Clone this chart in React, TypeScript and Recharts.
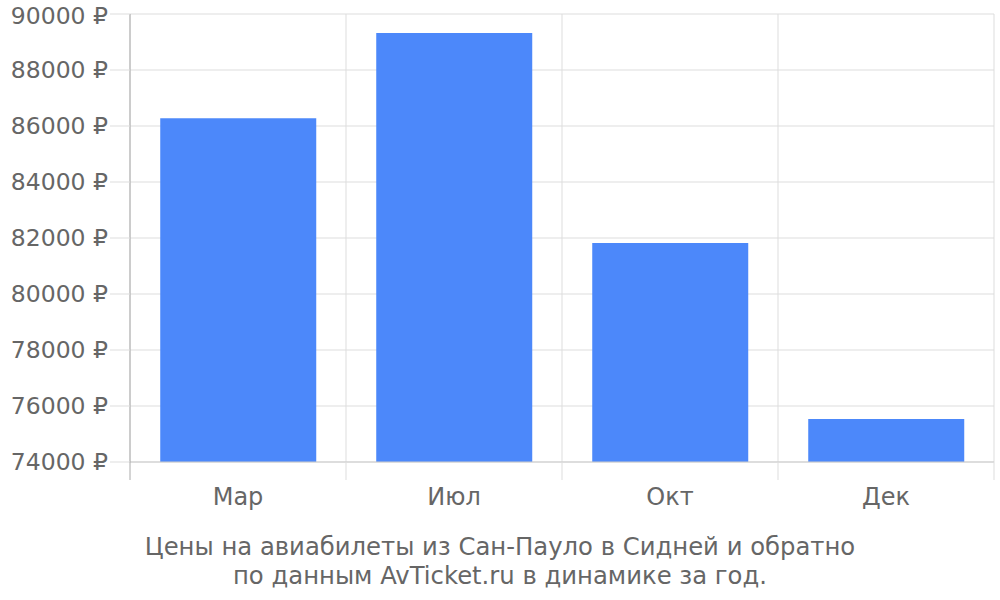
import React from 'react';
import { BarChart, Bar, XAxis, YAxis, CartesianGrid } from 'recharts';

const months = ['Мар', 'Июл', 'Окт', 'Дек'];
const prices = [86280, 89320, 81820, 75540];
const yTicks = [74000, 76000, 78000, 80000, 82000, 84000, 86000, 88000, 90000];
const titleLines = [
  'Цены на авиабилеты из Сан-Пауло в Сидней и обратно',
  'по данным AvTicket.ru в динамике за год.',
];

const data = months.map((m, i) => ({ month: m, price: prices[i] }));

const FONT = '"DejaVu Sans", sans-serif';
const TEXT = '#666666';
const TICK_MARGIN = 26;
const TICK_LEN = 18;

// category label plus the boundary ticks that hang below the x axis
const MonthTick: React.FC<any> = ({ x, y, payload, index, visibleTicksCount }) => {
  const half = payload && payload.offset ? payload.offset : 108;
  const axisY = y - TICK_MARGIN;
  const last = index === (visibleTicksCount ?? months.length) - 1;
  return (
    <g>
      <line x1={x - half} x2={x - half} y1={axisY} y2={axisY + TICK_LEN} stroke={index === 0 ? '#aaaaaa' : '#dddddd'} />
      {last && <line x1={x + half} x2={x + half} y1={axisY} y2={axisY + TICK_LEN} stroke="#dddddd" />}
      <text x={x} y={y} dy="0.71em" textAnchor="middle" fill={TEXT} fontSize={24} fontFamily={FONT}>
        {payload.value}
      </text>
    </g>
  );
};

const App: React.FC = () => {
  return (
    <div style={{ position: 'absolute', left: 0, top: 0, width: 1000, height: 600, fontFamily: FONT }}>
      <BarChart
        width={1000}
        height={600}
        data={data}
        margin={{ top: 14, right: 6, bottom: 0, left: 0 }}
        barCategoryGap="14%"
      >
        <CartesianGrid
          stroke="#dddddd"
          verticalCoordinatesGenerator={({ offset }: any) =>
            [0, 1, 2, 3, 4].map((i) => offset.left + (i * offset.width) / months.length)
          }
        />
        <XAxis
          dataKey="month"
          height={138}
          axisLine={{ stroke: '#cccccc' }}
          tickLine={false}
          tickSize={0}
          tickMargin={TICK_MARGIN}
          tick={<MonthTick />}
        />
        <YAxis
          width={130}
          domain={[74000, 90000]}
          ticks={yTicks}
          tickFormatter={(v: number) => `${v} ₽`}
          axisLine={{ stroke: '#aaaaaa' }}
          tickLine={{ stroke: '#dddddd' }}
          tickSize={20}
          tickMargin={2}
          tick={{ fill: TEXT, fontSize: 23.5, fontFamily: FONT }}
        />
        <Bar dataKey="price" fill="#4c88fa" isAnimationActive={false} />
      </BarChart>
      {titleLines.map((line, i) => (
        <div
          key={i}
          style={{
            position: 'absolute',
            left: 0,
            width: 1000,
            top: 532 + i * 29,
            textAlign: 'center',
            fontSize: 24.3,
            lineHeight: '30px',
            color: TEXT,
          }}
        >
          {line}
        </div>
      ))}
    </div>
  );
};

export default App;
